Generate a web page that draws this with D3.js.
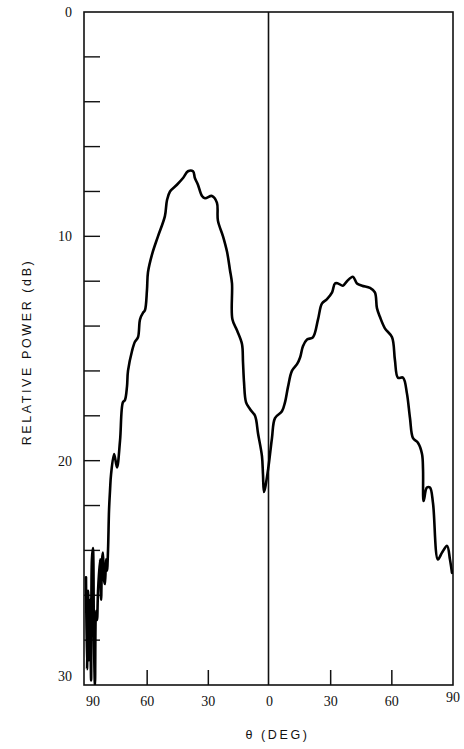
<!DOCTYPE html>
<html>
<head>
<meta charset="utf-8">
<script src="https://cdn.jsdelivr.net/npm/d3@7"></script>
<style>
  body { margin: 0; background: #fff; }
  svg { display: block; }
  .tick-num { font-family: "Liberation Serif", serif; font-size: 14px; fill: #111; }
  .title { font-family: "Liberation Sans", Arial, sans-serif; font-size: 12.5px; fill: #111; letter-spacing: 2.6px; }
</style>
</head>
<body>
<svg id="chart" width="464" height="749"></svg>
<script>
// angle off boresight (deg, negative = left half) and relative power (dB below peak ref)
const leftAngles = [-90, -89.5, -89.0, -88.5, -88.0, -87.5, -87.1, -86.6, -86.1, -85.6, -85.1, -84.6, -84.1,
  -83.1, -82.6, -82.1, -81.7, -81.2, -80.7, -80.2, -79.7, -79.2, -78.7, -78.2, -77.7, -76.2, -74.8, -73.3,
  -71.9, -70.9, -69.9, -69.4, -67.4, -66.0, -64.5, -63.5, -62.0, -61.1, -60.1, -59.6, -57.6, -54.7, -51.3,
  -50.3, -48.8, -45.4, -42.4, -40.0, -37.5, -36.6, -35.1, -33.1, -31.6, -28.2, -25.8, -25.3, -22.8, -20.8,
  -19.4, -18.4, -18.2, -15.9, -13.5, -13.0, -12.5, -11.5, -9.6, -7.1, -5.6, -3.7, -3.2, -2.7];
const leftPower = [25.2, 29.3, 25.8, 28.9, 26.2, 29.8, 24.4, 23.9, 28.0, 30.0, 26.7, 27.1, 25.8,
  24.4, 26.2, 24.4, 24.1, 25.3, 25.5, 24.4, 24.9, 24.0, 22.2, 21.3, 20.6, 19.7, 20.3, 19.1,
  17.4, 17.3, 16.7, 16.0, 15.1, 14.7, 14.5, 13.7, 13.4, 13.3, 12.4, 11.6, 10.8, 10.0, 9.1,
  8.4, 8.0, 7.7, 7.4, 7.1, 7.1, 7.4, 7.7, 8.2, 8.3, 8.2, 8.5, 9.3, 10.0, 10.7,
  11.5, 12.1, 13.7, 14.2, 14.8, 15.6, 16.5, 17.4, 17.7, 18.0, 18.8, 19.8, 20.6, 21.4];
const rightAngles = [-0.7, 1.2, 2.7, 6.1, 7.6, 9.1, 11.0, 13.5, 15.0, 16.4, 18.4, 21.3, 23.8, 25.7, 28.2,
  30.7, 32.1, 33.6, 36.0, 38.0, 40.9, 42.9, 45.4, 49.3, 51.7, 52.7, 54.2, 56.6, 60.1, 61.5, 63.0,
  65.5, 67.4, 68.9, 70.4, 72.8, 74.8, 75.3, 75.6, 77.2, 78.7, 80.2, 82.6, 84.6, 87.1, 88.5, 89.5];
const rightPower = [20.4, 19.0, 18.1, 17.8, 17.4, 16.7, 16.0, 15.7, 15.4, 14.9, 14.6, 14.5, 13.7, 13.0, 12.8,
  12.5, 12.1, 12.1, 12.2, 12.0, 11.8, 12.1, 12.2, 12.3, 12.5, 13.2, 13.6, 14.1, 14.5, 15.5, 16.3,
  16.3, 17.0, 18.1, 19.0, 19.2, 19.7, 20.4, 21.8, 21.2, 21.2, 21.9, 24.4, 24.1, 23.8, 24.4, 25.0];

const yTicks = [2, 4, 6, 8, 10, 12, 14, 16, 18, 20, 22, 24, 26, 28];
const yLabels = [0, 10, 20, 30];
const xTicks = [-60, -30, 30, 60];
const xLabelValues = [-90, -60, -30, 0, 30, 60, 90];
const xLabelText = ['90', '60', '30', '0', '30', '60', '90'];

class PatternChart {

    constructor() {
        this.margin = { top: 12, right: 11, bottom: 64, left: 86 };
        this.width = 464 - this.margin.left - this.margin.right;
        this.height = 749 - this.margin.top - this.margin.bottom;
        this.data = leftAngles.map((a, i) => ({ angle: a, db: leftPower[i] }))
            .concat(rightAngles.map((a, i) => ({ angle: a, db: rightPower[i] })));
        this.renderVis();
    }

    renderVis() {
        let vis = this;
        let svg = d3.select('#chart');
        let g = svg.append('g').attr('transform', `translate(${vis.margin.left},${vis.margin.top})`);

        vis.x = d3.scaleLinear().domain([-90, 90]).range([0, vis.width]);
        vis.y = d3.scaleLinear().domain([0, 30]).range([0, vis.height]);

        svg.append('clipPath').attr('id', 'plot-clip')
            .append('rect')
            .attr('x', -2).attr('y', 0)
            .attr('width', vis.width + 2).attr('height', vis.height);

        // frame
        g.append('rect')
            .attr('x', -2).attr('y', 0)
            .attr('width', vis.width + 2).attr('height', vis.height)
            .attr('fill', 'none').attr('stroke', '#111').attr('stroke-width', 1.6);

        // boresight line
        g.append('line')
            .attr('x1', vis.x(0) - 1).attr('x2', vis.x(0) - 1)
            .attr('y1', 0).attr('y2', vis.height)
            .attr('stroke', '#111').attr('stroke-width', 1.6);

        // y ticks, pointing inward
        g.selectAll('.ytick').data(yTicks).join('line')
            .attr('class', 'ytick')
            .attr('x1', -2).attr('x2', 14)
            .attr('y1', d => vis.y(d)).attr('y2', d => vis.y(d))
            .attr('stroke', '#111').attr('stroke-width', 1.4);

        g.selectAll('.ylab').data(yLabels).join('text')
            .attr('class', 'tick-num ylab')
            .attr('x', -14)
            .attr('y', d => d == 30 ? vis.y(d) - 9 : vis.y(d))
            .attr('dy', '0.35em')
            .attr('text-anchor', 'end')
            .text(d => d);

        // x ticks, pointing up
        g.selectAll('.xtick').data(xTicks).join('line')
            .attr('class', 'xtick')
            .attr('x1', d => vis.x(d)).attr('x2', d => vis.x(d))
            .attr('y1', vis.height).attr('y2', vis.height - 15)
            .attr('stroke', '#111').attr('stroke-width', 1.5);

        g.selectAll('.xlab').data(xLabelValues).join('text')
            .attr('class', 'tick-num xlab')
            .attr('x', (d, i) => vis.x(d) + (i == 0 ? 7 : 0))
            .attr('y', (d, i) => vis.height + (i == 6 ? 12 : 16))
            .attr('dy', '0.35em')
            .attr('text-anchor', 'middle')
            .text((d, i) => xLabelText[i]);

        // axis titles
        g.append('text')
            .attr('class', 'title')
            .attr('x', vis.x(0) + 8)
            .attr('y', vis.height + 50)
            .attr('dy', '0.35em')
            .attr('text-anchor', 'middle')
            .text('θ (DEG)');

        g.append('text')
            .attr('class', 'title')
            .attr('transform', `translate(${27 - vis.margin.left},${352 - vis.margin.top}) rotate(-90)`)
            .attr('dy', '0.35em')
            .attr('text-anchor', 'middle')
            .text('RELATIVE POWER (dB)');

        // measured pattern
        let line = d3.line()
            .x(d => vis.x(d.angle))
            .y(d => vis.y(d.db))
            .curve(d3.curveCatmullRom.alpha(0.5));

        g.append('path')
            .datum(vis.data)
            .attr('clip-path', 'url(#plot-clip)')
            .attr('d', line)
            .attr('fill', 'none')
            .attr('stroke', '#000')
            .attr('stroke-width', 2.6)
            .attr('stroke-linejoin', 'round')
            .attr('stroke-linecap', 'round');
    }
}

new PatternChart();
</script>
</body>
</html>
